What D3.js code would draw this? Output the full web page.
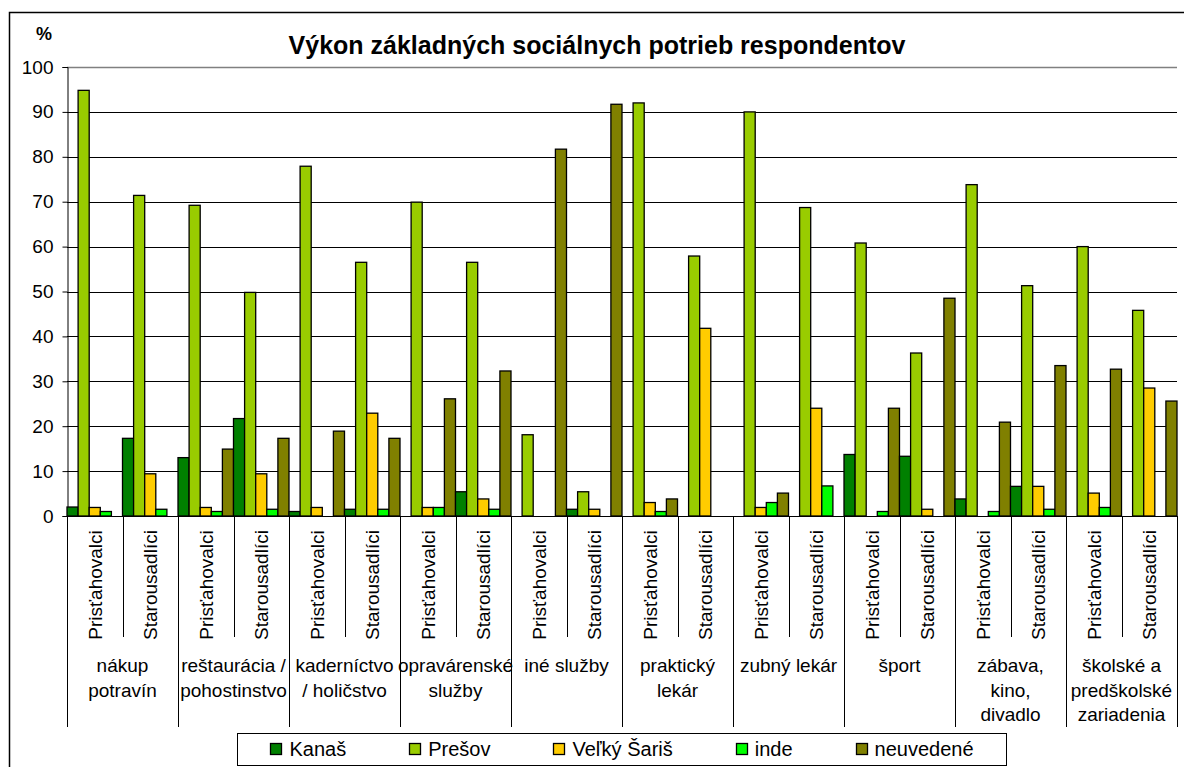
<!DOCTYPE html>
<html>
<head>
<meta charset="utf-8">
<script src="https://cdn.jsdelivr.net/npm/d3@7"></script>
<style>
  html, body { margin: 0; padding: 0; background: #fff; overflow: hidden; }
  svg { display: block; }
  text { font-family: "Liberation Sans", Arial, sans-serif; fill: #000; }
</style>
</head>
<body>
<svg id="chart" width="1184" height="767"></svg>
<script>
// ---- data ----
const categories = [
  ["nákup", "potravín"],
  ["reštaurácia /", "pohostinstvo"],
  ["kaderníctvo", "/ holičstvo"],
  ["opravárenské", "služby"],
  ["iné služby"],
  ["praktický", "lekár"],
  ["zubný lekár"],
  ["šport"],
  ["zábava,", "kino,", "divadlo"],
  ["školské a", "predškolské", "zariadenia"]
];
const groups = ["Prisťahovalci", "Starousadlíci"];
const seriesNames = ["Kanaš", "Prešov", "Veľký Šariš", "inde", "neuvedené"];
const seriesColors = ["#008000", "#99CC00", "#FFCC00", "#00FF00", "#808000"];
// one value per (category, group), 20 entries each
const kanas      = [2, 17.3, 13, 21.7, 1, 1.5, 0, 5.4, 0, 1.5, 0, 0, 0, 0, 13.7, 13.3, 3.8, 6.6, 0, 0];
const presov     = [94.8, 71.4, 69.2, 49.8, 77.9, 56.5, 69.9, 56.5, 18.1, 5.4, 92, 57.9, 90, 68.7, 60.8, 36.3, 73.8, 51.3, 60, 45.8];
const velkySaris = [1.9, 9.4, 1.9, 9.4, 1.9, 22.9, 1.9, 3.8, 0, 1.5, 3, 41.8, 1.9, 24, 0, 1.5, 0, 6.6, 5.1, 28.5];
const inde       = [1, 1.5, 1, 1.5, 0, 1.5, 1.9, 1.5, 0, 0, 1, 0, 3, 6.7, 1, 0, 1, 1.5, 1.9, 0];
const neuvedene  = [0, 0, 14.9, 17.3, 18.9, 17.3, 26.1, 32.3, 81.7, 91.7, 3.8, 0, 5.1, 0, 24, 48.5, 20.9, 33.5, 32.7, 25.6];
const yTicks = [0, 10, 20, 30, 40, 50, 60, 70, 80, 90, 100];
const title = "Výkon základných sociálnych potrieb respondentov";
const yUnit = "%";

const seriesValues = [kanas, presov, velkySaris, inde, neuvedene];

// ---- layout ----
const svg = d3.select("#chart");
const L = 67, R = 1177, T = 67, B = 516;

// outer frame (extends past the right/bottom edge as in the reference)
svg.append("rect").attr("x", 9.5).attr("y", 12.5).attr("width", 1200).attr("height", 800)
  .attr("fill", "none").attr("stroke", "#000").attr("stroke-width", 1.5);

const catIdx = d3.range(categories.length);
const x0 = d3.scaleBand().domain(catIdx).range([L, R]).padding(0);
const x1 = d3.scaleBand().domain(groups).range([0, x0.bandwidth()]).padding(0);
const x2 = d3.scaleBand().domain(seriesNames).range([0, x1.bandwidth()]).paddingInner(0).paddingOuter(0);
const y = d3.scaleLinear().domain([0, 100]).range([B, T]);

// gridlines
svg.append("g").selectAll("line").data(yTicks.filter(d => d > 0)).join("line")
  .attr("x1", L).attr("x2", R)
  .attr("y1", d => Math.round(y(d)) + 0.5).attr("y2", d => Math.round(y(d)) + 0.5)
  .attr("stroke", d => d === 100 ? "#808080" : "#000").attr("stroke-width", d => d === 100 ? 1.5 : 1);

// y axis
const yAxis = d3.axisLeft(y).tickValues(yTicks).tickSize(5).tickPadding(9).tickFormat(d3.format("d"));
const gy = svg.append("g").attr("transform", `translate(${L + 0.5},0)`).call(yAxis);
gy.select(".domain").attr("stroke", "#000");
gy.selectAll(".tick line").attr("stroke", "#000");
gy.selectAll(".tick text").attr("font-size", 19).attr("font-family", "Liberation Sans, Arial, sans-serif").attr("fill", "#000");

// bars
const rows = [];
catIdx.forEach(ci => groups.forEach((g, gi) => {
  const k = ci * groups.length + gi;
  seriesNames.forEach((s, si) => rows.push({ ci, g, s, si, v: seriesValues[si][k] }));
}));
svg.append("g").selectAll("rect").data(rows.filter(d => d.v > 0)).join("rect")
  .attr("x", d => x0(d.ci) + x1(d.g) + x2(d.s))
  .attr("width", x2.bandwidth())
  .attr("y", d => y(d.v))
  .attr("height", d => y(0) - y(d.v))
  .attr("fill", d => seriesColors[d.si])
  .attr("stroke", "#000").attr("stroke-width", 1.3);

// x axis line
svg.append("line").attr("x1", L).attr("x2", R).attr("y1", B + 0.5).attr("y2", B + 0.5)
  .attr("stroke", "#000").attr("stroke-width", 1);

// separators
const gx = svg.append("g");
catIdx.forEach(ci => {
  const xs = x0(ci);
  gx.append("line").attr("x1", Math.round(xs) + 0.5).attr("x2", Math.round(xs) + 0.5)
    .attr("y1", B).attr("y2", 727).attr("stroke", "#000");
  const xm = xs + x1(groups[1]);
  gx.append("line").attr("x1", Math.round(xm) + 0.5).attr("x2", Math.round(xm) + 0.5)
    .attr("y1", B).attr("y2", 637).attr("stroke", "#000");
});
gx.append("line").attr("x1", Math.round(R) + 0.5).attr("x2", Math.round(R) + 0.5)
  .attr("y1", B).attr("y2", 727).attr("stroke", "#000");

// group labels (rotated)
catIdx.forEach(ci => groups.forEach(g => {
  const cx = x0(ci) + x1(g) + x1.bandwidth() / 2;
  gx.append("text")
    .attr("transform", `translate(${cx + 7},${585}) rotate(-90)`)
    .attr("text-anchor", "middle")
    .attr("font-size", 19)
    .text(g);
}));

// category labels
catIdx.forEach(ci => {
  const cx = x0(ci) + x0.bandwidth() / 2;
  categories[ci].forEach((line, li) => {
    gx.append("text").attr("x", cx).attr("y", 672 + li * 24.7)
      .attr("text-anchor", "middle").attr("font-size", 19).text(line);
  });
});

// title
svg.append("text").attr("x", 597).attr("y", 54).attr("text-anchor", "middle")
  .attr("font-size", 25).attr("font-weight", "bold").text(title);
svg.append("text").attr("x", 44).attr("y", 40).attr("text-anchor", "middle")
  .attr("font-size", 18).attr("font-weight", "bold").text(yUnit);

// legend
const lg = svg.append("g");
const items = seriesNames.map((s, i) => {
  const t = lg.append("text").attr("font-size", 20).attr("y", 756).text(s);
  return { s, i, t, w: t.node().getComputedTextLength() };
});
const sq = 12, gapText = 7, gapItem = 63, pad = 33;
const totalW = d3.sum(items, d => sq + gapText + d.w) + gapItem * (items.length - 1);
const boxW = totalW + pad * 2;
const cxLeg = (L + R) / 2;
const bx = cxLeg - boxW / 2;
lg.insert("rect", ":first-child").attr("x", Math.round(bx) + 0.5).attr("y", 733.5)
  .attr("width", Math.round(boxW)).attr("height", 32)
  .attr("fill", "#fff").attr("stroke", "#000").attr("stroke-width", 1);
let cur = bx + pad;
items.forEach(d => {
  lg.append("rect").attr("x", Math.round(cur) + 0.5).attr("y", 743.5).attr("width", sq - 1).attr("height", sq - 1)
    .attr("fill", seriesColors[d.i]).attr("stroke", "#000").attr("stroke-width", 1.3);
  d.t.attr("x", cur + sq + gapText);
  cur += sq + gapText + d.w + gapItem;
});
</script>
</body>
</html>
